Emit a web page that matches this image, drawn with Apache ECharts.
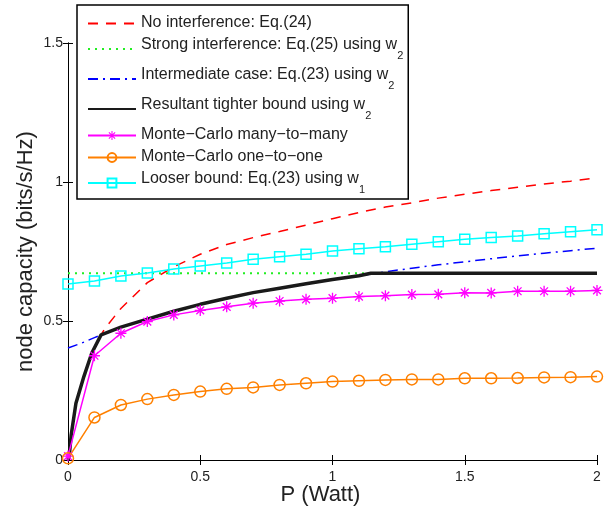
<!DOCTYPE html>
<html>
<head>
<meta charset="utf-8">
<script src="https://cdn.jsdelivr.net/npm/echarts@6/dist/echarts.min.js"></script>
<style>
	html,body{margin:0;padding:0;background:#fff;}
	#chart{width:608px;height:508px;}
</style>
</head>
<body>
<div id="chart"></div>
<script>
	// power grid used by the simulated curves (Watt)
	var powerGrid = [0,0.1,0.2,0.3,0.4,0.5,0.6,0.7,0.8,0.9,1.0,1.1,1.2,1.3,1.4,1.5,1.6,1.7,1.8,1.9,2.0];
	var monteCarloMany = [0.014,0.375,0.456,0.498,0.522,0.538,0.551,0.564,0.572,0.578,0.582,0.588,0.591,0.595,0.596,0.602,0.601,0.607,0.607,0.607,0.610];
	var monteCarloOne = [0.006,0.153,0.198,0.219,0.234,0.246,0.256,0.261,0.270,0.276,0.282,0.285,0.288,0.290,0.290,0.294,0.294,0.295,0.297,0.298,0.300];
	var looserW1 = [0.633,0.644,0.662,0.673,0.687,0.698,0.709,0.722,0.731,0.740,0.752,0.760,0.767,0.776,0.785,0.794,0.800,0.806,0.814,0.821,0.828];

	// analytic curves
	var noInterfP = [0,0.005,0.012,0.03,0.06,0.09,0.125,0.14,0.2,0.3,0.4,0.5,0.6,0.7,0.8,0.9,1.0,1.1,1.2,1.3,1.4,1.5,1.6,1.7,1.8,1.9,2.0];
	var noInterfC = [0,0.018,0.09,0.204,0.30,0.385,0.45,0.474,0.545,0.638,0.695,0.740,0.775,0.800,0.822,0.845,0.868,0.890,0.910,0.925,0.942,0.956,0.969,0.981,0.993,1.003,1.015];
	var strongP = [0,2];
	var strongC = [0.672,0.672];
	var interP = [0,0.05,0.1,0.125,0.2,0.3,0.4,0.5,0.6,0.7,0.8,0.9,1.0,1.1,1.2,1.3,1.4,1.5,1.6,1.7,1.8,1.9,2.0];
	var interC = [0.403,0.42,0.44,0.45,0.478,0.507,0.535,0.560,0.582,0.602,0.618,0.634,0.649,0.663,0.677,0.690,0.702,0.713,0.724,0.734,0.744,0.753,0.762];
	var tightP = [0,0.005,0.012,0.03,0.06,0.09,0.125,0.2,0.3,0.4,0.5,0.6,0.7,0.8,0.9,1.0,1.1,1.145,2.0];
	var tightC = [0,0.018,0.09,0.204,0.30,0.385,0.45,0.478,0.507,0.535,0.560,0.582,0.602,0.618,0.634,0.649,0.663,0.672,0.672];

	var xTicks = [0,0.5,1,1.5,2];
	var yTicks = [0,0.5,1,1.5];

	var names = [
		'No interference: Eq.(24)',
		'Strong interference: Eq.(25) using w_2',
		'Intermediate case: Eq.(23) using w_2',
		'Resultant tighter bound using w_2',
		'Monte\u2212Carlo many\u2212to\u2212many',
		'Monte\u2212Carlo one\u2212to\u2212one',
		'Looser bound: Eq.(23) using w_1'
	];

	function pairs(xs, ys){
		var out = [];
		for (var i = 0; i < xs.length; i++) out.push([xs[i], ys[i]]);
		return out;
	}

	var asterisk = 'path://M-1.2,-10L1.2,-10L1.2,10L-1.2,10Z M-10,-1.2L10,-1.2L10,1.2L-10,1.2Z M-6.22,-7.92L7.92,6.22L6.22,7.92L-7.92,-6.22Z M6.22,-7.92L7.92,-6.22L-6.22,7.92L-7.92,6.22Z';
	var font = '"Liberation Sans", Arial, sans-serif';

	var chart = echarts.init(document.getElementById('chart'), null, {renderer:'canvas'});

	var axisCommon = {
		min:0,
		axisLine:{show:true,lineStyle:{color:'#000',width:1}},
		axisTick:{show:true,inside:true,length:5,lineStyle:{color:'#000'}},
		splitLine:{show:false}
	};

	// lines without markers: hide the legend dot
	var legendData = names.map(function(n, i){
		return i < 4 ? {name:n, itemStyle:{opacity:0}} : {name:n};
	});

	var option = {
		animation:false,
		backgroundColor:'#fff',
		grid:{left:68,right:11,top:43,bottom:48,containLabel:false,outerBoundsMode:'none'},
		legend:{
			orient:'vertical',left:77,top:5,
			itemWidth:48,itemHeight:11,itemGap:6,
			padding:[10,5,4,10],
			backgroundColor:'#fff',borderColor:'#000',borderWidth:1.5,borderRadius:0,
			data:legendData,
			formatter:function(n){
				var m = n.match(/^(.*)_(\d)$/);
				return m ? '{m|' + m[1] + '}{sub|' + m[2] + '}' : '{m|' + n + '}';
			},
			textStyle:{fontFamily:font,fontSize:16,color:'#222',
				rich:{
					m:{fontFamily:font,fontSize:16,color:'#222',lineHeight:17,verticalAlign:'top'},
					sub:{fontFamily:font,fontSize:11,color:'#222',lineHeight:24,verticalAlign:'bottom'}
				}}
		},
		xAxis:[
			Object.assign({}, axisCommon, {type:'value',max:2,interval:0.5,position:'bottom',
				name:'P (Watt)',nameLocation:'middle',nameGap:24,nameMoveOverlap:false,
				nameTextStyle:{fontFamily:font,fontSize:22,color:'#222',padding:[0,24,0,0]},
				axisLabel:{margin:10,fontFamily:font,fontSize:14,color:'#222',
					formatter:function(v){ return xTicks.indexOf(v) >= 0 ? String(v) : ''; }}}),
			Object.assign({}, axisCommon, {type:'value',max:2,interval:0.5,position:'top',axisLabel:{show:false}})
		],
		yAxis:[
			Object.assign({}, axisCommon, {type:'value',max:1.5,interval:0.5,position:'left',
				name:'node capacity (bits/s/Hz)',nameLocation:'middle',nameGap:31,nameMoveOverlap:false,
				nameTextStyle:{fontFamily:font,fontSize:22,color:'#222'},
				axisLabel:{margin:5,fontFamily:font,fontSize:14,color:'#222',
					formatter:function(v){ return yTicks.indexOf(v) >= 0 ? String(v) : ''; }}}),
			Object.assign({}, axisCommon, {type:'value',max:1.5,interval:0.5,position:'right',axisLabel:{show:false}})
		],
		series:[
			{name:names[0],type:'line',symbol:'none',data:pairs(noInterfP,noInterfC),
				lineStyle:{color:'#ff0000',width:1.5,type:[10,8]},itemStyle:{color:'#ff0000'}},
			{name:names[1],type:'line',symbol:'none',data:pairs(strongP,strongC),
				lineStyle:{color:'#22ee22',width:2,type:[2,5]},itemStyle:{color:'#22ee22'}},
			{name:names[2],type:'line',symbol:'none',data:pairs(interP,interC),
				lineStyle:{color:'#0000ff',width:1.5,type:[10,5,2,5]},itemStyle:{color:'#0000ff'}},
			{name:names[3],type:'line',symbol:'none',data:pairs(tightP,tightC),
				lineStyle:{color:'#1a1a1a',width:3.5},itemStyle:{color:'#1a1a1a'}},
			{name:names[4],type:'line',symbol:asterisk,symbolSize:11,data:pairs(powerGrid,monteCarloMany),
				lineStyle:{color:'#ff00ff',width:1.5},itemStyle:{color:'#ff00ff'}},
			{name:names[5],type:'line',symbol:'circle',symbolSize:11,data:pairs(powerGrid,monteCarloOne),
				lineStyle:{color:'#ff8000',width:1.5},itemStyle:{color:'rgba(255,255,255,0)',borderColor:'#ff8000',borderWidth:1.5}},
			{name:names[6],type:'line',symbol:'rect',symbolSize:10,data:pairs(powerGrid,looserW1),
				lineStyle:{color:'#00ffff',width:1.5},itemStyle:{color:'rgba(255,255,255,0)',borderColor:'#00ffff',borderWidth:1.5}}
		]
	};
	chart.setOption(option);
</script>
</body>
</html>
